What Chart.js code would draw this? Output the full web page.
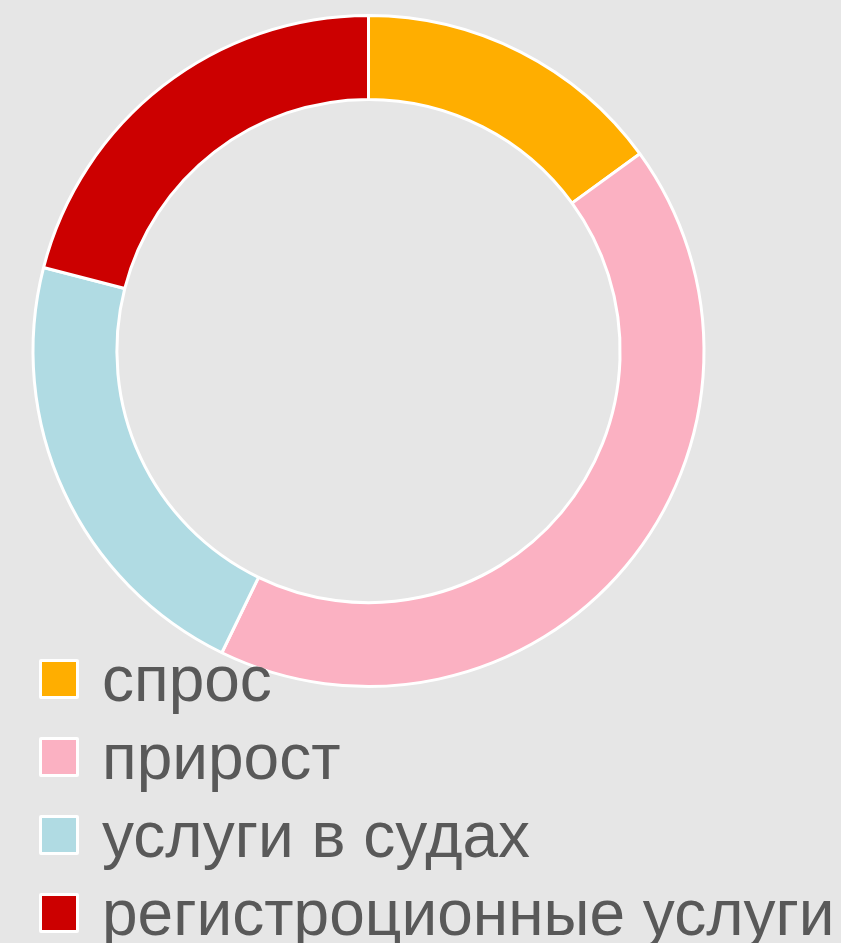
<!DOCTYPE html>
<html>
<head>
<meta charset="utf-8">
<script src="https://cdn.jsdelivr.net/npm/chart.js@4"></script>
<style>
  html, body { margin: 0; padding: 0; background: #e6e6e6; }
  #wrap { position: relative; width: 841px; height: 943px; overflow: hidden; }
  #chart { position: absolute; left: 0; top: 0; }
  #legend { position: absolute; left: 0; top: 0; }
  .item { position: absolute; left: 39px; height: 40px; display: flex; align-items: center; white-space: nowrap; }
  .box { width: 34px; height: 34px; border: 3px solid #fff; border-radius: 2px; }
  .lbl { margin-left: 23px; font-family: "Liberation Sans", Arial, sans-serif; font-size: 64px; color: #595959; line-height: 40px; }
</style>
</head>
<body>
<div id="wrap">
  <canvas id="chart" width="841" height="943"></canvas>
  <div id="legend"></div>
</div>
<script>
// доли сегментов, %
const categories = ["спрос", "прирост", "услуги в судах", "регистроционные услуги"];
const values = [15, 42.2, 21.8, 21];
const colors = ["#ffae00", "#fbb1c2", "#b0dbe3", "#cc0000"];

const ctx = document.getElementById('chart').getContext('2d');

const myChart = new Chart(ctx, {
    type: 'doughnut',
    data: {
        labels: categories,
        datasets: [{
            data: values,
            backgroundColor: colors,
            borderColor: '#ffffff',
            borderWidth: 3
        }]
    },
    options: {
        responsive: false,
        animation: false,
        cutout: '75%',
        layout: {
            padding: { top: 14, bottom: 255, left: 0, right: 104 }
        },
        plugins: {
            legend: { display: false },
            tooltip: { enabled: false }
        }
    }
});

// легенда
const legend = document.getElementById('legend');
categories.forEach((name, i) => {
    const item = document.createElement('div');
    item.className = 'item';
    item.style.top = (659 + i * 78) + 'px';
    item.innerHTML = `<div class="box" style="background:${colors[i]}"></div><span class="lbl">${name}</span>`;
    legend.appendChild(item);
});
</script>
</body>
</html>
